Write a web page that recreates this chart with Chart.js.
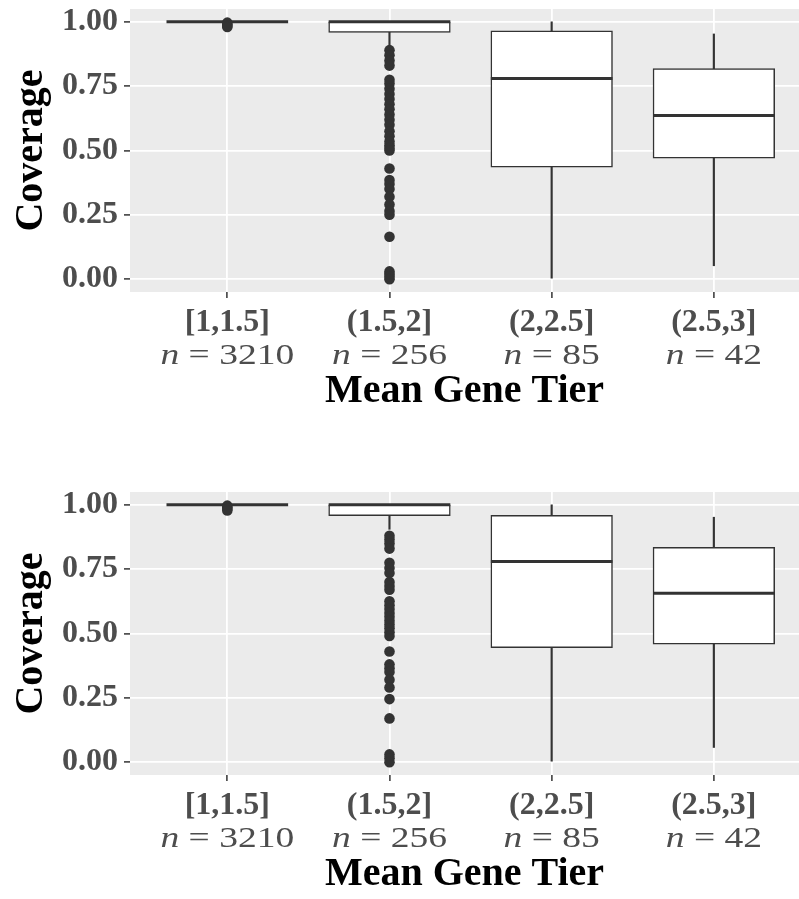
<!DOCTYPE html>
<html>
<head>
<meta charset="utf-8">
<script src="https://cdn.jsdelivr.net/npm/chart.js@4"></script>
<style>
  html, body { margin: 0; padding: 0; background: #fff; }
  canvas { display: block; }
</style>
</head>
<body>
<canvas id="chartTop" width="799" height="483"></canvas>
<canvas id="chartBottom" width="799" height="416"></canvas>
<script>
// categories along the x axis and their sample sizes
const tiers = ['[1,1.5]', '(1.5,2]', '(2,2.5]', '(2.5,3]'];
const counts = [3210, 256, 85, 42];

// upper panel: whisker ends, quartiles and medians
const topLower = [1.0, 0.905, 0.0, 0.052];
const topQ1 = [1.0, 0.959, 0.435, 0.470];
const topMedian = [1.0, 1.0, 0.780, 0.636];
const topQ3 = [1.0, 1.0, 0.965, 0.818];
const topUpper = [1.0, 1.0, 1.0, 0.953];
const topOutliers = [
  [0.997, 0.99, 0.985, 0.98],
  [0.89, 0.87, 0.85, 0.83, 0.775, 0.76, 0.74, 0.72, 0.70, 0.68, 0.66, 0.64, 0.62,
   0.60, 0.575, 0.555, 0.535, 0.52, 0.51, 0.50, 0.43, 0.385, 0.37, 0.35, 0.32,
   0.29, 0.265, 0.25, 0.165, 0.03, 0.02, 0.01, 0.0],
  [],
  []
];

// lower panel
const bottomLower = [1.0, 0.905, 0.0, 0.057];
const bottomQ1 = [1.0, 0.958, 0.445, 0.459];
const bottomMedian = [1.0, 1.0, 0.780, 0.656];
const bottomQ3 = [1.0, 1.0, 0.959, 0.835];
const bottomUpper = [1.0, 1.0, 1.0, 0.952];
const bottomOutliers = [
  [0.997, 0.99, 0.985, 0.978],
  [0.88, 0.865, 0.85, 0.83, 0.775, 0.755, 0.735, 0.70, 0.685, 0.67, 0.625, 0.61,
   0.595, 0.58, 0.565, 0.55, 0.535, 0.52, 0.505, 0.49, 0.43, 0.38, 0.365, 0.35,
   0.32, 0.29, 0.245, 0.17, 0.03, 0.015, 0.0],
  [],
  []
];

const SERIF = '"Liberation Serif", "Times New Roman", serif';
const INK = '#333333';
const TICK_TEXT = '#4D4D4D';
const X_MIN = -0.6, X_MAX = 3.525;
const AXIS_WIDTH = 130;
const PLOT_HEIGHT = 283;
const unitPx = (799 - AXIS_WIDTH) / (X_MAX - X_MIN);
const boxWidth = 0.75 * unitPx;

// grey panel, tier labels with counts, axis titles
const ggDecor = {
  id: 'ggDecor',
  beforeDraw(chart) {
    const { ctx, chartArea: a } = chart;
    ctx.save();
    ctx.fillStyle = '#EBEBEB';
    ctx.fillRect(a.left, a.top, a.right - a.left, a.bottom - a.top);
    ctx.restore();
  },
  afterDraw(chart) {
    const { ctx, chartArea: a } = chart;
    const xs = chart.scales.x;
    ctx.save();
    ctx.fillStyle = TICK_TEXT;
    ctx.textBaseline = 'alphabetic';
    tiers.forEach((t, i) => {
      const cx = xs.getPixelForValue(i);
      ctx.font = `bold 32px ${SERIF}`;
      ctx.textAlign = 'center';
      ctx.fillText(t, cx, a.bottom + 39);
      drawCount(ctx, cx, a.bottom + 72, counts[i]);
    });

    ctx.fillStyle = '#000';
    ctx.font = `bold 40px ${SERIF}`;
    ctx.textAlign = 'center';
    ctx.fillText('Mean Gene Tier', (a.left + a.right) / 2, a.bottom + 110);

    ctx.translate(42, (a.top + a.bottom) / 2);
    ctx.rotate(-Math.PI / 2);
    ctx.fillText('Coverage', 0, 0);
    ctx.restore();
  }
};

function drawCount(ctx, cx, baseline, n) {
  const italic = `italic 30px ${SERIF}`;
  const roman = `30px ${SERIF}`;
  ctx.save();
  ctx.translate(cx, baseline);
  ctx.scale(1.25, 1);
  ctx.textAlign = 'left';
  ctx.font = italic;
  const wn = ctx.measureText('n').width;
  ctx.font = roman;
  const rest = ' = ' + n;
  const wr = ctx.measureText(rest).width;
  let x = -(wn + wr) / 2;
  ctx.font = italic;
  ctx.fillText('n', x, 0);
  ctx.font = roman;
  ctx.fillText(rest, x + wn, 0);
  ctx.restore();
}

function makePanel(id, lower, q1, median, q3, upper, outliers) {
  const canvas = document.getElementById(id);
  const xAxisHeight = canvas.height - 9 - PLOT_HEIGHT;

  const outlierPoints = [];
  outliers.forEach((list, i) => list.forEach(v => outlierPoints.push({ x: i, y: v })));

  return new Chart(canvas, {
    type: 'bar',
    data: {
      datasets: [
        {
          type: 'scatter',
          data: outlierPoints,
          pointRadius: 5.3,
          pointBackgroundColor: INK,
          pointBorderWidth: 0,
          order: 1
        },
        {
          // medians as flat line markers spanning the box
          type: 'scatter',
          data: median.map((v, i) => ({ x: i, y: v })),
          pointStyle: 'line',
          pointRadius: boxWidth / 2,
          pointBorderColor: INK,
          pointBorderWidth: 3,
          order: 2
        },
        {
          data: q1.map((v, i) => ({ x: i, y: [v, q3[i]] })),
          backgroundColor: '#FFFFFF',
          borderColor: INK,
          borderWidth: 1.5,
          borderSkipped: false,
          barThickness: boxWidth,
          grouped: false,
          order: 3
        },
        {
          data: lower.map((v, i) => ({ x: i, y: [v, upper[i]] })),
          backgroundColor: INK,
          borderWidth: 0,
          barThickness: 1.5,
          grouped: false,
          order: 4
        }
      ]
    },
    options: {
      responsive: false,
      animation: false,
      events: [],
      layout: { autoPadding: false, padding: { top: 9, right: 0, bottom: 0, left: 0 } },
      plugins: { legend: { display: false }, tooltip: { enabled: false } },
      scales: {
        x: {
          type: 'linear',
          min: X_MIN,
          max: X_MAX,
          offset: false,
          border: { display: false },
          grid: {
            offset: false,
            color: '#FFFFFF',
            lineWidth: 1.8,
            drawTicks: true,
            tickLength: 6,
            tickWidth: 1.5,
            tickColor: INK
          },
          ticks: { display: false, stepSize: 1, includeBounds: false },
          afterFit(scale) {
            scale.height = xAxisHeight;
            scale.paddingLeft = 0;
            scale.paddingRight = 0;
          }
        },
        y: {
          type: 'linear',
          min: -0.05,
          max: 1.05,
          beginAtZero: false,
          border: { display: false },
          grid: {
            color: '#FFFFFF',
            lineWidth: ctx => (ctx.tick && ctx.tick.value % 0.25 === 0 ? 1.8 : 0.9),
            drawTicks: true,
            tickLength: 6,
            tickWidth: 1.5,
            tickColor: ctx => (ctx.tick && ctx.tick.value % 0.25 === 0 ? INK : 'rgba(0,0,0,0)')
          },
          ticks: {
            stepSize: 0.125,
            includeBounds: false,
            padding: 6,
            color: TICK_TEXT,
            font: { family: SERIF, size: 32, weight: 'bold' },
            callback: v => (v % 0.25 === 0 ? v.toFixed(2) : '')
          },
          afterFit(scale) {
            scale.width = AXIS_WIDTH;
            scale.paddingTop = 0;
            scale.paddingBottom = 0;
          }
        }
      }
    },
    plugins: [ggDecor]
  });
}

makePanel('chartTop', topLower, topQ1, topMedian, topQ3, topUpper, topOutliers);
makePanel('chartBottom', bottomLower, bottomQ1, bottomMedian, bottomQ3, bottomUpper, bottomOutliers);
</script>
</body>
</html>
